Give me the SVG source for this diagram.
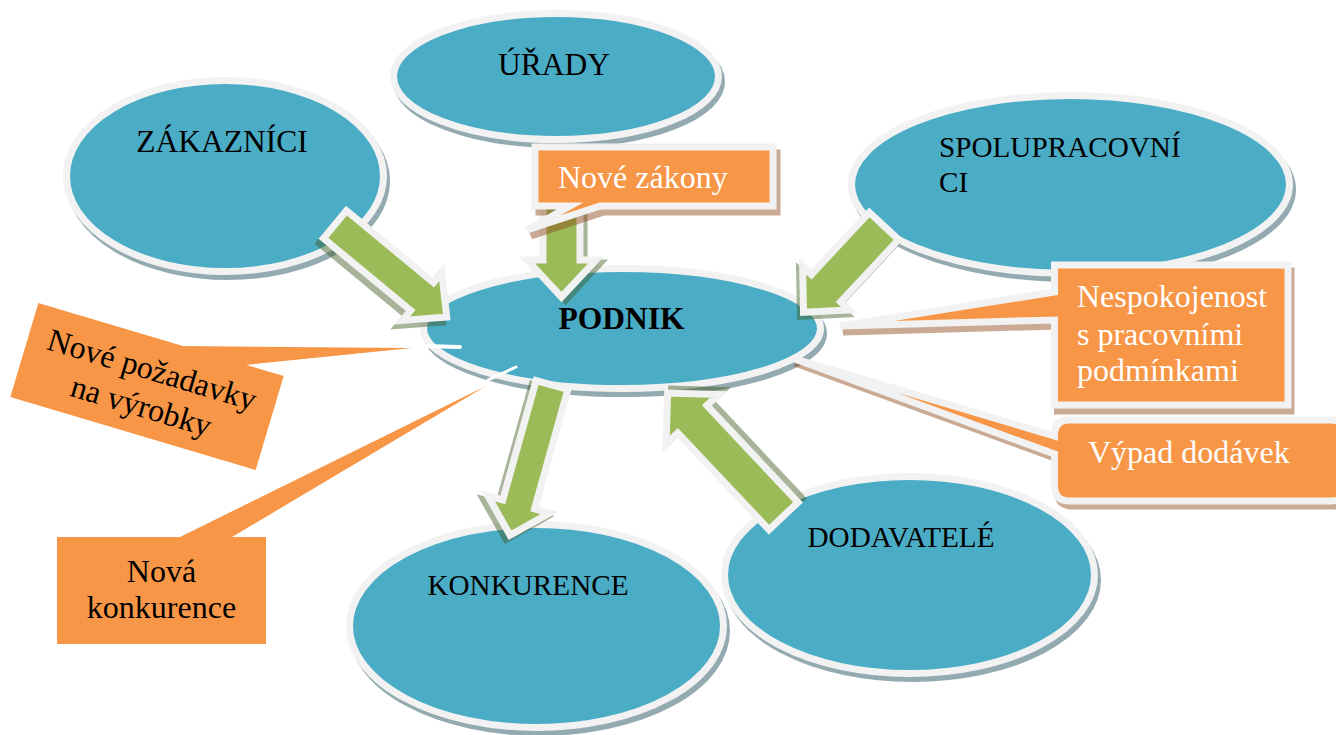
<svg xmlns="http://www.w3.org/2000/svg" xmlns:xlink="http://www.w3.org/1999/xlink" width="1336" height="735" viewBox="0 0 1336 735">
<style>
.ell{fill:#4bacc6;stroke:#f2f2f2;stroke-width:7}
.esh{fill:#2a5866;stroke:#2a5866;stroke-width:7;opacity:.5}
.arr{fill:#9bbb59;stroke:#f2f2f2;stroke-width:7;stroke-linejoin:miter}
.ash{fill:#3f5a1f;stroke:#3f5a1f;stroke-width:7;opacity:.45}
.co{fill:#f79646;stroke:#f2f2f2;stroke-width:7;stroke-linejoin:miter}
.csh{fill:#8b4513;stroke:#8b4513;stroke-width:7;opacity:.45;stroke-linejoin:miter}
.cp{fill:#f79646}
.t{font-family:"Liberation Serif","Times New Roman",serif;fill:#000}
.big{font-size:31.5px}
.sm{font-size:29.2px}
.ct{font-family:"Liberation Serif","Times New Roman",serif;font-size:32px}
.w{fill:#fff}
.streak{stroke:#fff;stroke-linecap:round;fill:none}
</style>
<defs>
<path id="a1" d="M0,-18 L113,-18 L113,-31 L145,0 L113,31 L113,18 L0,18 Z" transform="translate(335,224.5) rotate(39.6)"/>
<path id="a2" d="M0,-18.5 L65,-18.5 L65,-34.5 L102,0 L65,34.5 L65,18.5 L0,18.5 Z" transform="translate(561.5,195) rotate(90)"/>
<path id="a3" d="M0,-20 L85,-20 L85,-32 L118,0 L85,32 L85,20 L0,20 Z" transform="translate(884,226) rotate(133)"/>
<path id="a4" d="M0,-16.5 L124,-16.5 L124,-32 L156,0 L124,32 L124,16.5 L0,16.5 Z" transform="translate(552,385) rotate(105.6)"/>
<path id="a5" d="M0,-20 L133,-20 L133,-36 L169,0 L133,36 L133,20 L0,20 Z" transform="translate(783.5,516) rotate(226.7)"/>
<path id="c1" d="M535,147 H773 V206 H600 L527,230 L570,206 H535 Z"/>
<path id="c2" d="M1054.5,265 H1288 V405 H1054.5 V320 L840,326 L1054.5,292 Z"/>
<path id="c3" d="M1069.5,420 H1331 Q1346,420 1346,435 V486 Q1346,501 1331,501 H1069.5 Q1054.5,501 1054.5,486 V454 L792,358 L1054.5,436 V435 Q1054.5,420 1069.5,420 Z"/>
</defs>

<g id="zakaznici">
<ellipse class="esh" cx="228" cy="181" rx="158.5" ry="95.5"/>
<ellipse class="ell" cx="225" cy="176" rx="158.5" ry="95.5"/>
<text class="t big" x="222" y="152" text-anchor="middle">ZÁKAZNÍCI</text>
</g>
<g id="urady">
<ellipse class="esh" cx="559" cy="81.5" rx="162.5" ry="63"/>
<ellipse class="ell" cx="556" cy="76.5" rx="162.5" ry="63"/>
<text class="t big" x="554" y="75" text-anchor="middle">ÚŘADY</text>
</g>
<g id="spolupracovnici">
<ellipse class="esh" cx="1073.5" cy="189.5" rx="219" ry="89"/>
<ellipse class="ell" cx="1070.5" cy="184.5" rx="219" ry="89"/>
<text class="t sm" x="939" y="157">SPOLUPRACOVNÍ</text>
<text class="t sm" x="939" y="192">CI</text>
</g>
<g id="podnik">
<ellipse class="esh" cx="625" cy="333.5" rx="198.5" ry="60"/>
<ellipse class="ell" cx="622" cy="328.5" rx="198.5" ry="60"/>
<text class="t big" x="621.5" y="329" text-anchor="middle" font-weight="bold">PODNIK</text>
</g>
<g id="konkurence">
<ellipse class="esh" cx="539.5" cy="631" rx="187" ry="101.5"/>
<ellipse class="ell" cx="536.5" cy="626" rx="187" ry="101.5"/>
<text class="t sm" x="528" y="595" text-anchor="middle">KONKURENCE</text>
</g>
<g id="dodavatele">
<ellipse class="esh" cx="912.5" cy="580" rx="185" ry="98.5"/>
<ellipse class="ell" cx="909.5" cy="575" rx="185" ry="98.5"/>
<text class="t sm" x="901" y="547" text-anchor="middle">DODAVATELÉ</text>
</g>

<g id="connectors">
<g transform="translate(-4,5)"><use xlink:href="#a1" class="ash"/></g>
<use xlink:href="#a1" class="arr"/>
<g transform="translate(4,3)"><use xlink:href="#a2" class="ash"/></g>
<use xlink:href="#a2" class="arr"/>
<g transform="translate(-3,4)"><use xlink:href="#a3" class="ash"/></g>
<use xlink:href="#a3" class="arr"/>
<g transform="translate(-4,4)"><use xlink:href="#a4" class="ash"/></g>
<use xlink:href="#a4" class="arr"/>
<g transform="translate(4,-4)"><use xlink:href="#a5" class="ash"/></g>
<use xlink:href="#a5" class="arr"/>
</g>

<g id="callout-zakony">
<g transform="translate(4,6)"><use xlink:href="#c1" class="csh"/></g>
<use xlink:href="#c1" class="co"/>
<text class="ct w" x="558" y="188">Nové zákony</text>
</g>
<g id="callout-nespokojenost">
<g transform="translate(3,6)"><use xlink:href="#c2" class="csh"/></g>
<use xlink:href="#c2" class="co"/>
<text class="ct w" x="1077" y="307">Nespokojenost</text>
<text class="ct w" x="1077" y="345">s pracovními</text>
<text class="ct w" x="1077" y="381">podmínkami</text>
</g>
<g id="callout-vypad">
<g transform="translate(3,5)"><use xlink:href="#c3" class="csh"/></g>
<use xlink:href="#c3" class="co"/>
<text class="ct w" x="1088" y="463">Výpad dodávek</text>
</g>
<g id="callout-pozadavky">
<polygon class="cp" points="182,346 412,348 245,365"/>
<g transform="translate(147,386.5) rotate(16.6)">
<rect class="cp" x="-128" y="-49" width="256" height="98"/>
<text class="ct" x="0" y="-7" text-anchor="middle">Nové požadavky</text>
<text class="ct" x="0" y="31" text-anchor="middle">na výrobky</text>
</g>
<line class="streak" x1="425" y1="346" x2="460" y2="347" stroke-width="4"/>
</g>
<g id="callout-konkurence">
<polygon class="cp" points="180,537 486,386 232,537"/>
<rect class="cp" x="57" y="537" width="209" height="107"/>
<text class="ct" x="161.5" y="582" text-anchor="middle">Nová</text>
<text class="ct" x="161.5" y="618" text-anchor="middle">konkurence</text>
<line class="streak" x1="488" y1="380" x2="516" y2="367" stroke-width="3"/>
</g>
</svg>
